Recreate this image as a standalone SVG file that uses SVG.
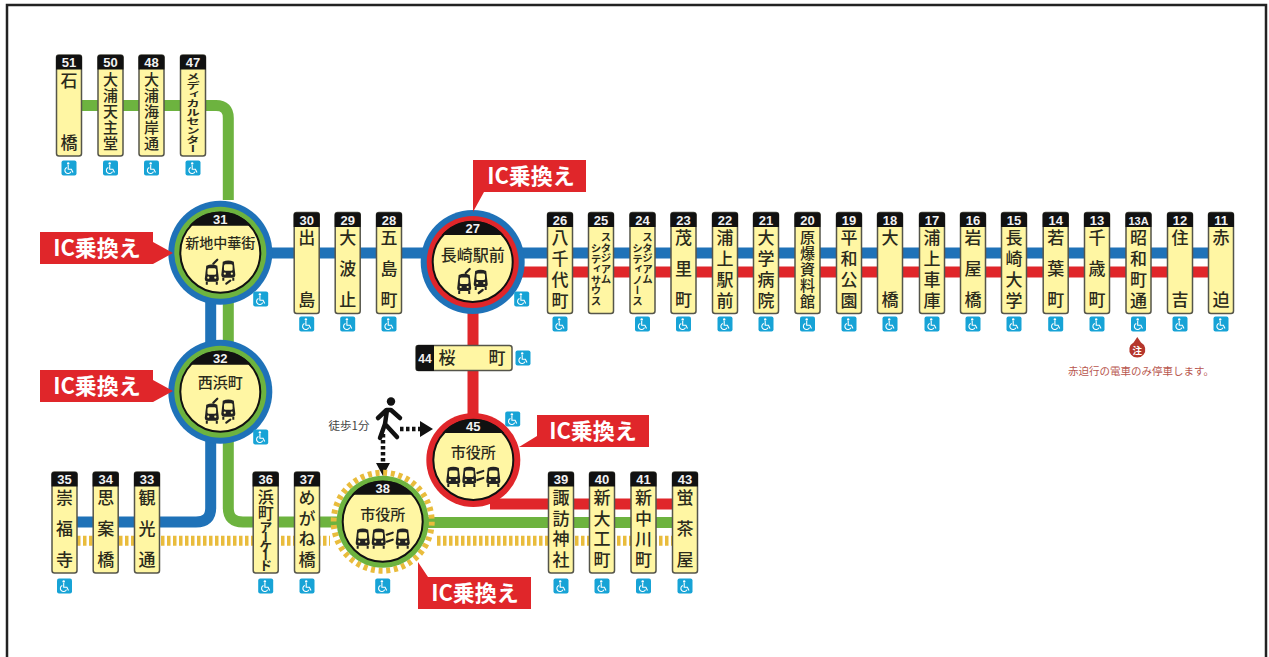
<svg xmlns="http://www.w3.org/2000/svg" width="1269" height="657" viewBox="0 0 1269 657">
<style>
text{font-family:"Noto Sans CJK JP","Noto Sans",sans-serif}
.l{fill:none;stroke-width:11;stroke-linejoin:round}
.b{stroke:#1F72B8}.g{stroke:#6DB33F}.r{stroke:#E0262A}
.d{fill:none;stroke:#E9BC3C;stroke-width:10;stroke-dasharray:3.5 2.5}
.n{font-family:"Liberation Sans",sans-serif;font-weight:700;font-size:13px;fill:#f2f2f2;text-anchor:middle}
.v{writing-mode:vertical-rl;fill:#2b2b1c;font-size:17px;font-weight:500}
.c2{letter-spacing:45px}.c3{letter-spacing:14px}.c4{letter-spacing:3.7px}.c5{font-size:15px;letter-spacing:1px}
.k{font-size:10.5px;font-weight:700}
.s{font-size:15px;fill:#2b2b1c;text-anchor:middle;font-weight:500}
.ic{fill:#E0262A}
.it{font-size:22px;font-weight:700;fill:#fff;text-anchor:middle}
</style>
<defs>
<g id="box"><rect x="-12.5" y="0" width="25" height="101" rx="2.5" fill="#FFF6A3" stroke="#55554a" stroke-width="1.5"/><path d="M-13,14.5V2.5Q-13,0 -10.5,0H10.5Q13,0 13,2.5V14.5Z" fill="#111"/></g>
<g id="wc"><rect x="-7.5" y="-7.5" width="15" height="15" rx="2" fill="#17A3D6"/><circle cx="-0.8" cy="-4.6" r="1.2" fill="#fff"/><path d="M-0.8,-3V1.2H2.4L4,4.6M-2.2,-0.6A3.2,3.2 0 1 0 2,3.6" fill="none" stroke="#fff" stroke-width="1.1"/></g>
<g id="cap"><path d="M-31,-27A41,41 0 0 1 31,-27Z" fill="#111"/></g>
<g id="t"><path d="M-5.5,-8Q0,-10.500 5.5,-8L7,5Q7,8 4,8H-4Q-7,8 -7,5Z" fill="#222"/><rect x="-4.300" y="-5.500" width="8.600" height="6.500" rx="1.500" fill="#FFF6A3"/><circle cx="-3.500" cy="4" r="1.100" fill="#FFF6A3"/><circle cx="3.500" cy="4" r="1.100" fill="#FFF6A3"/><path d="M-5,8V11M5,8V11" stroke="#222" stroke-width="2"/></g>
<g id="two"><use href="#t" x="-8.500" y="21"/><use href="#t" x="8" y="17"/><path d="M-7,11L-3,7M6,31L10,28" stroke="#222" stroke-width="2.200" fill="none" stroke-linecap="round"/></g>
<g id="three"><use href="#t" x="-20" y="16"/><use href="#t" x="-4" y="16"/><use href="#t" x="20" y="16"/><path d="M4,13L10,11M4,20L10,18" stroke="#222" stroke-width="2.200" fill="none" stroke-linecap="round"/></g>
</defs>
<rect width="1269" height="657" fill="#fff"/>
<path id="frame" d="M7,657V5H1266V657" fill="none" stroke="#222" stroke-width="2.500"/>

<g id="connectors">
<path class="l g" d="M75,105.500H216Q228.300,105.500 228.300,118V200"/>
<path class="l b" d="M220,253H1221"/>
<path class="l r" d="M473,272H1221"/>
<path class="l b" d="M210.700,300V345"/>
<path class="l g" d="M228.300,300V345"/>
<path class="l b" d="M210.700,435V508Q210.700,522 196,522H70"/>
<path class="l g" d="M228.300,435V508Q228.300,522 243,522H340"/>
<path class="l g" d="M425,522.500H685"/>
<path class="l r" d="M473,310V420"/>
<path class="l r" d="M490,504H685"/>
<path class="d" d="M77,540.700H330M437,540.700H672"/>
<path d="M400,429H421" fill="none" stroke="#111" stroke-width="4.500" stroke-dasharray="3.500 2.500"/>
<path d="M420,421L433,429L420,437Z" fill="#111"/>
<path d="M383,434V463" fill="none" stroke="#111" stroke-width="4.500" stroke-dasharray="3.500 2.500"/>
<path d="M376,463H390L383,476Z" fill="#111"/>
</g>

<g id="walker"><circle cx="391" cy="401.500" r="4.200" fill="#111"/><path d="M378,418L386.500,410H391L400,418M387,410L385,424L380,438M385,424L397,437" fill="none" stroke="#111" stroke-width="4.500" stroke-linejoin="round" stroke-linecap="round"/><text x="349" y="430" font-size="11.500" fill="#444" text-anchor="middle">徒歩1分</text></g>

<g id="s31" transform="translate(220.300,252.700)"><circle r="52" fill="#1F72B8"/><circle r="46" fill="#6DB33F"/><circle r="40" fill="#FFF6A3" stroke="#111" stroke-width="2"/><use href="#cap"/><text class="n" y="-29">31</text><text class="s" y="-5" style="font-size:14px">新地中華街</text><use href="#two" y="0"/></g>
<g id="s32" transform="translate(220.300,391.700)"><circle r="52" fill="#1F72B8"/><circle r="46" fill="#6DB33F"/><circle r="40" fill="#FFF6A3" stroke="#111" stroke-width="2"/><use href="#cap"/><text class="n" y="-29">32</text><text class="s" y="-3.500">西浜町</text><use href="#two"/></g>
<g id="s27" transform="translate(472.700,262)"><circle r="52" fill="#1F72B8"/><circle r="46" fill="#E0262A"/><circle r="40" fill="#FFF6A3" stroke="#111" stroke-width="2"/><use href="#cap"/><text class="n" y="-29">27</text><text class="s" y="-1.500" style="font-size:16px">長崎駅前</text><use href="#two"/></g>
<g id="s45" transform="translate(473.300,460)"><circle r="47" fill="#E0262A"/><circle r="40" fill="#FFF6A3" stroke="#111" stroke-width="2"/><use href="#cap"/><text class="n" y="-29">45</text><text class="s" y="-2">市役所</text><use href="#three"/></g>
<g id="s38" transform="translate(382.700,521.700)"><circle r="49" fill="none" stroke="#E9BC3C" stroke-width="6" stroke-dasharray="4 3.700"/><circle r="46" fill="#6DB33F"/><circle r="40" fill="#FFF6A3" stroke="#111" stroke-width="2"/><use href="#cap"/><text class="n" y="-29">38</text><text class="s" y="-1.500">市役所</text><use href="#three"/></g>

<g id="s51"><use href="#box" x="69" y="55"/><text class="n" x="69" y="67">51</text><text class="v c2" x="69" y="72">石橋</text><use href="#wc" x="69" y="168"/></g>
<g id="s50"><use href="#box" x="110.500" y="55"/><text class="n" x="110.500" y="67">50</text><text class="v c5" x="110.500" y="72">大浦天主堂</text><use href="#wc" x="110.500" y="168"/></g>
<g id="s48"><use href="#box" x="151.500" y="55"/><text class="n" x="151.500" y="67">48</text><text class="v c5" x="151.500" y="72">大浦海岸通</text><use href="#wc" x="151.500" y="168"/></g>
<g id="s47"><use href="#box" x="193" y="55"/><text class="n" x="193" y="67">47</text><text class="v" style="font-size:9px;font-weight:700" transform="translate(193,72) scale(1.500,1)">メディカルセンター</text><use href="#wc" x="193" y="168"/></g>

<g id="s30"><use href="#box" x="306.700" y="212.500"/><text class="n" x="306.700" y="224.500">30</text><text class="v c2" x="306.700" y="229.500">出島</text><use href="#wc" x="306.700" y="324"/></g>
<g id="s29"><use href="#box" x="347.700" y="212.500"/><text class="n" x="347.700" y="224.500">29</text><text class="v c3" x="347.700" y="229.500">大波止</text><use href="#wc" x="347.700" y="324"/></g>
<g id="s28"><use href="#box" x="389" y="212.500"/><text class="n" x="389" y="224.500">28</text><text class="v c3" x="389" y="229.500">五島町</text><use href="#wc" x="389" y="324"/></g>
<g id="s26"><use href="#box" x="560" y="212.500"/><text class="n" x="560" y="224.500">26</text><text class="v c4" x="560" y="229.500">八千代町</text><use href="#wc" x="560" y="324"/></g>
<g id="s25"><use href="#box" x="601" y="212.500"/><text class="n" x="601" y="224.500">25</text><text class="v k" x="606" y="232">スタジアム</text><text class="v k" x="596" y="243">シティサウス</text></g>
<g id="s24"><use href="#box" x="642.500" y="212.500"/><text class="n" x="642.500" y="224.500">24</text><text class="v k" x="647.500" y="232">スタジアム</text><text class="v k" x="637.500" y="243">シティノース</text><use href="#wc" x="642.500" y="324"/></g>
<g id="s23"><use href="#box" x="683.500" y="212.500"/><text class="n" x="683.500" y="224.500">23</text><text class="v c3" x="683.500" y="229.500">茂里町</text><use href="#wc" x="683.500" y="324"/></g>
<g id="s22"><use href="#box" x="725" y="212.500"/><text class="n" x="725" y="224.500">22</text><text class="v c4" x="725" y="229.500">浦上駅前</text><use href="#wc" x="725" y="324"/></g>
<g id="s21"><use href="#box" x="766" y="212.500"/><text class="n" x="766" y="224.500">21</text><text class="v c4" x="766" y="229.500">大学病院</text><use href="#wc" x="766" y="324"/></g>
<g id="s20"><use href="#box" x="807.500" y="212.500"/><text class="n" x="807.500" y="224.500">20</text><text class="v c5" x="807.500" y="229.500">原爆資料館</text><use href="#wc" x="807.500" y="324"/></g>
<g id="s19"><use href="#box" x="849" y="212.500"/><text class="n" x="849" y="224.500">19</text><text class="v c4" x="849" y="229.500">平和公園</text><use href="#wc" x="849" y="324"/></g>
<g id="s18"><use href="#box" x="890" y="212.500"/><text class="n" x="890" y="224.500">18</text><text class="v c2" x="890" y="229.500">大橋</text><use href="#wc" x="890" y="324"/></g>
<g id="s17"><use href="#box" x="932" y="212.500"/><text class="n" x="932" y="224.500">17</text><text class="v c4" x="932" y="229.500">浦上車庫</text><use href="#wc" x="932" y="324"/></g>
<g id="s16"><use href="#box" x="973" y="212.500"/><text class="n" x="973" y="224.500">16</text><text class="v c3" x="973" y="229.500">岩屋橋</text><use href="#wc" x="973" y="324"/></g>
<g id="s15"><use href="#box" x="1014" y="212.500"/><text class="n" x="1014" y="224.500">15</text><text class="v c4" x="1014" y="229.500">長崎大学</text><use href="#wc" x="1014" y="324"/></g>
<g id="s14"><use href="#box" x="1055.700" y="212.500"/><text class="n" x="1055.700" y="224.500">14</text><text class="v c3" x="1055.700" y="229.500">若葉町</text><use href="#wc" x="1055.700" y="324"/></g>
<g id="s13"><use href="#box" x="1097" y="212.500"/><text class="n" x="1097" y="224.500">13</text><text class="v c3" x="1097" y="229.500">千歳町</text><use href="#wc" x="1097" y="324"/></g>
<g id="s13A"><use href="#box" x="1138.500" y="212.500"/><text class="n" x="1138.500" y="224.500" style="font-size:11px">13A</text><text class="v c4" x="1138.500" y="229.500">昭和町通</text><use href="#wc" x="1138.500" y="324"/></g>
<g id="s12"><use href="#box" x="1180" y="212.500"/><text class="n" x="1180" y="224.500">12</text><text class="v c2" x="1180" y="229.500">住吉</text><use href="#wc" x="1180" y="324"/></g>
<g id="s11"><use href="#box" x="1221" y="212.500"/><text class="n" x="1221" y="224.500">11</text><text class="v c2" x="1221" y="229.500">赤迫</text><use href="#wc" x="1221" y="324"/></g>

<g id="s35"><use href="#box" x="64.500" y="472"/><text class="n" x="64.500" y="484">35</text><text class="v c3" x="64.500" y="489">崇福寺</text><use href="#wc" x="64.500" y="586"/></g>
<g id="s34"><use href="#box" x="105.700" y="472"/><text class="n" x="105.700" y="484">34</text><text class="v c3" x="105.700" y="489">思案橋</text></g>
<g id="s33"><use href="#box" x="147" y="472"/><text class="n" x="147" y="484">33</text><text class="v c3" x="147" y="489">観光通</text></g>
<g id="s36"><use href="#box" x="265.700" y="472"/><text class="n" x="265.700" y="484">36</text><text class="v" x="265.700" y="489" style="font-size:16px">浜町<tspan style="font-size:13px;letter-spacing:-3.700px;font-weight:700">アーケード</tspan></text><use href="#wc" x="265.700" y="586"/></g>
<g id="s37"><use href="#box" x="307" y="472"/><text class="n" x="307" y="484">37</text><text class="v c4" x="307" y="489">めがね橋</text><use href="#wc" x="307" y="586"/></g>
<use href="#wc" x="382.700" y="586"/>
<g id="s39"><use href="#box" x="561" y="472"/><text class="n" x="561" y="484">39</text><text class="v c4" x="561" y="489">諏訪神社</text><use href="#wc" x="561" y="586"/></g>
<g id="s40"><use href="#box" x="602" y="472"/><text class="n" x="602" y="484">40</text><text class="v c4" x="602" y="489">新大工町</text><use href="#wc" x="602" y="586"/></g>
<g id="s41"><use href="#box" x="643.500" y="472"/><text class="n" x="643.500" y="484">41</text><text class="v c4" x="643.500" y="489">新中川町</text><use href="#wc" x="643.500" y="586"/></g>
<g id="s43"><use href="#box" x="685" y="472"/><text class="n" x="685" y="484">43</text><text class="v c3" x="685" y="489">蛍茶屋</text><use href="#wc" x="685" y="586"/></g>

<g id="s44"><rect x="416" y="345.500" width="96" height="25" rx="2.500" fill="#FFF6A3" stroke="#55554a" stroke-width="1.500"/><path d="M434,345H418.500Q416,345 416,347.500V368.500Q416,371 418.500,371H434Z" fill="#111"/><text class="n" x="425" y="362.500" style="font-size:12px">44</text><text x="447" y="364" font-size="17" font-weight="500" fill="#2b2b1c" text-anchor="middle">桜</text><text x="497" y="364" font-size="17" font-weight="500" fill="#2b2b1c" text-anchor="middle">町</text><use href="#wc" x="523" y="358"/></g>

<use href="#wc" x="260.700" y="299"/>
<use href="#wc" x="260.700" y="437"/>
<use href="#wc" x="521.700" y="299"/>
<use href="#wc" x="512.700" y="419"/>

<g id="ic31"><path class="ic" d="M40,232H153V242L173,253L153,264H40Z"/><text class="it" x="97" y="256">IC乗換え</text></g>
<g id="ic32"><path class="ic" d="M40,370H153V380L173,391L153,402H40Z"/><text class="it" x="97" y="394">IC乗換え</text></g>
<g id="ic27"><path class="ic" d="M473,160H586V192H484L473,212Z"/><text class="it" x="531" y="184">IC乗換え</text></g>
<g id="ic45"><path class="ic" d="M537,415H649V447H519L537,436Z"/><text class="it" x="593" y="439">IC乗換え</text></g>
<g id="ic38"><path class="ic" d="M418,562L428,577H531V609H418Z"/><text class="it" x="475" y="601">IC乗換え</text></g>

<g id="note"><path d="M1137.300,337L1141,342.500A8,8 0 1 1 1133.600,342.500Z" fill="#B5362C"/><text x="1137.300" y="354" font-size="9.500" font-weight="700" fill="#fff" text-anchor="middle">注</text><text x="1141" y="374.500" font-size="10.500" fill="#B8564E" text-anchor="middle">赤迫行の電車のみ停車します。</text></g>
</svg>
